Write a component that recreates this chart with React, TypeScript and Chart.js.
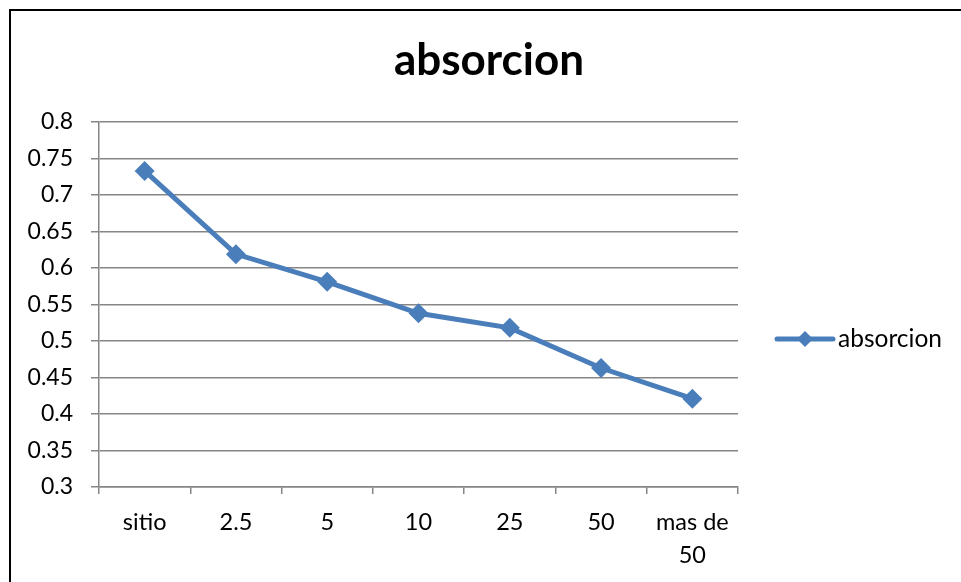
import React, { useEffect, useRef } from "react";
import { Chart, registerables } from "chart.js";

Chart.register(...registerables);

const categories: (string | string[])[] = ["sitio", "2.5", "5", "10", "25", "50", ["mas de", "50"]];
const absorcion: number[] = [0.733, 0.619, 0.581, 0.538, 0.518, 0.463, 0.421];
const seriesName = "absorcion";
const chartTitle = "absorcion";
const yMin = 0.3;
const yMax = 0.8;
const yStep = 0.05;

const BLUE = "#4A7EBB";
const GRID = "#868686";
const FONT = "Lato, 'Open Sans', sans-serif";

const overlayPlugin = {
  id: "overlay",
  afterDraw(chart: any) {
    const { ctx, chartArea } = chart;
    ctx.save();
    // title
    ctx.fillStyle = "#000";
    ctx.font = `bold 44px ${FONT}`;
    ctx.textAlign = "center";
    ctx.textBaseline = "alphabetic";
    ctx.fillText(chartTitle, 489, 75);
    // legend
    const ly = 339;
    const lx0 = chartArea.right + 39;
    const lx1 = lx0 + 56;
    ctx.strokeStyle = BLUE;
    ctx.lineWidth = 5;
    ctx.lineCap = "round";
    ctx.beginPath();
    ctx.moveTo(lx0, ly);
    ctx.lineTo(lx1, ly);
    ctx.stroke();
    const cx = (lx0 + lx1) / 2;
    const r = 8;
    ctx.fillStyle = BLUE;
    ctx.beginPath();
    ctx.moveTo(cx - r, ly);
    ctx.lineTo(cx, ly - r);
    ctx.lineTo(cx + r, ly);
    ctx.lineTo(cx, ly + r);
    ctx.closePath();
    ctx.fill();
    ctx.fillStyle = "#000";
    ctx.font = `24.5px ${FONT}`;
    ctx.textAlign = "left";
    ctx.fillText(seriesName, lx1 + 5, 347);
    ctx.restore();
  },
};

export default function App() {
  const ref = useRef<HTMLCanvasElement | null>(null);
  useEffect(() => {
    if (!ref.current) return;
    const chart = new Chart(ref.current, {
      type: "line",
      data: {
        labels: categories,
        datasets: [
          {
            label: seriesName,
            data: absorcion,
            borderColor: BLUE,
            backgroundColor: BLUE,
            borderWidth: 5,
            pointStyle: "rectRot",
            pointRadius: 10,
            pointBorderWidth: 0,
            pointBackgroundColor: BLUE,
            tension: 0,
          },
        ],
      },
      options: {
        responsive: false,
        animation: false,
        devicePixelRatio: 1,
        layout: { padding: { left: 0, top: 122, right: 223, bottom: 0 } },
        plugins: {
          legend: { display: false },
          title: { display: false },
          tooltip: { enabled: false },
        },
        scales: {
          x: {
            offset: true,
            grid: {
              display: true,
              offset: true,
              drawOnChartArea: false,
              drawTicks: true,
              tickLength: 7,
              color: GRID,
              lineWidth: 1.5,
            },
            border: { display: true, color: GRID, width: 1.5 },
            ticks: {
              color: "#000",
              maxRotation: 0,
              minRotation: 0,
              autoSkip: false,
              padding: 12,
              font: { family: FONT, size: 23.5, lineHeight: 1.4 },
            },
            afterFit(scale: any) {
              scale.height = 95;
            },
          },
          y: {
            min: yMin,
            max: yMax,
            grid: {
              color: GRID,
              lineWidth: 1.5,
              tickLength: 8,
            },
            border: { display: true, color: GRID, width: 1.5 },
            ticks: {
              stepSize: yStep,
              color: "#000",
              padding: 18,
              font: { family: FONT, size: 23 },
              callback: (v: any) => Number(Number(v).toFixed(2)).toString(),
            },
            afterFit(scale: any) {
              scale.width = 99;
            },
          },
        },
      },
      plugins: [overlayPlugin],
    });
    return () => chart.destroy();
  }, []);

  return (
    <>
      <canvas
        ref={ref}
        width={961}
        height={582}
        style={{ position: "fixed", left: 0, top: 0, width: 961, height: 582 }}
      />
      <div
        style={{
          position: "fixed",
          left: 9,
          top: 9,
          width: 980,
          height: 600,
          borderTop: "2px solid #000",
          borderLeft: "2px solid #000",
          pointerEvents: "none",
          boxSizing: "border-box",
        }}
      />
    </>
  );
}
